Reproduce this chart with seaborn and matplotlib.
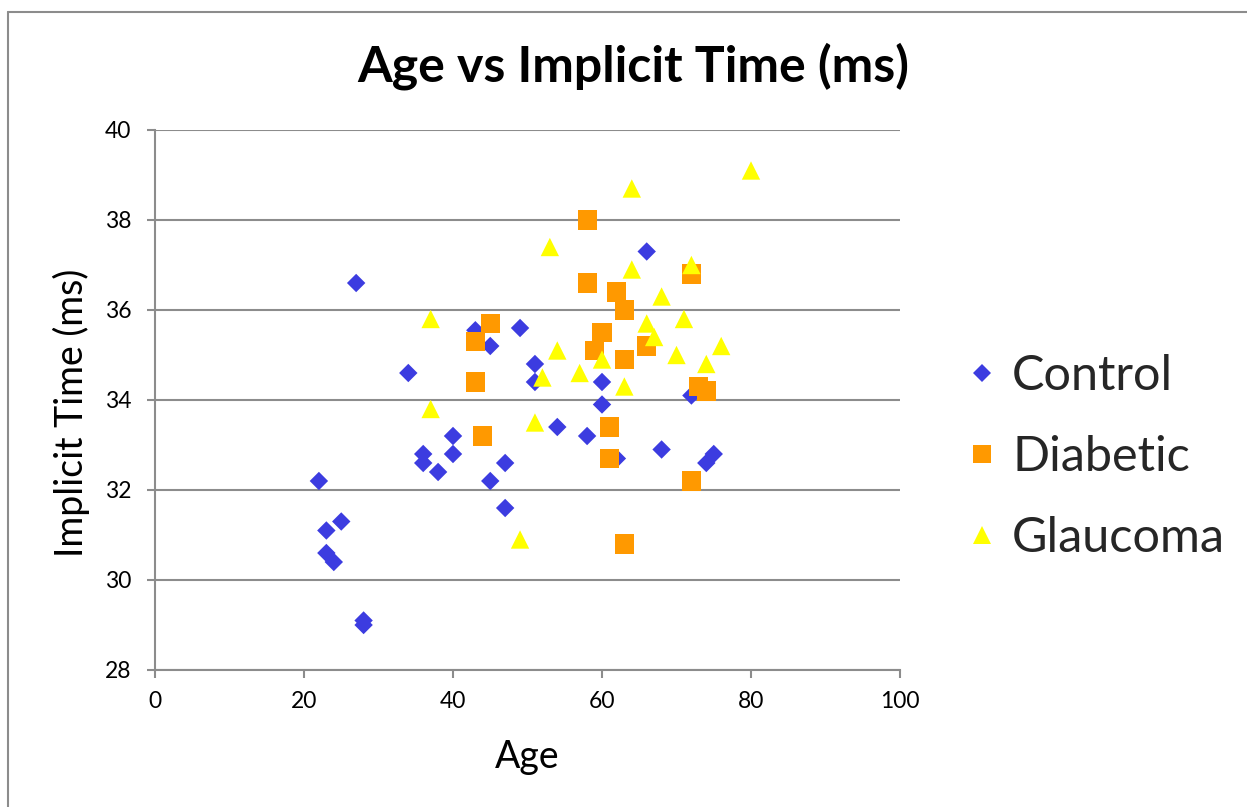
import matplotlib
matplotlib.use("Agg")
import matplotlib.pyplot as plt
from matplotlib.lines import Line2D
import seaborn as sns
import pandas as pd

# ---- data ----
control_age = [22, 23, 23, 24, 25, 27, 28, 28, 34, 36, 36, 38, 40, 40, 43, 45, 45, 47, 47, 49,
               51, 51, 54, 58, 60, 60, 62, 66, 68, 72, 74, 75]
control_time = [32.2, 31.1, 30.6, 30.4, 31.3, 36.6, 29.1, 29.0, 34.6, 32.8, 32.6, 32.4, 33.2, 32.8,
                35.55, 35.2, 32.2, 32.6, 31.6, 35.6, 34.8, 34.4, 33.4, 33.2, 34.4, 33.9, 32.7, 37.3,
                32.9, 34.1, 32.6, 32.8]

diabetic_age = [43, 43, 44, 45, 58, 58, 59, 60, 61, 61, 62, 63, 63, 63, 66, 72, 72, 73, 74]
diabetic_time = [35.3, 34.4, 33.2, 35.7, 38.0, 36.6, 35.1, 35.5, 33.4, 32.7, 36.4, 36.0, 34.9, 30.8,
                 35.2, 36.8, 32.2, 34.3, 34.2]

glaucoma_age = [37, 37, 49, 51, 52, 53, 54, 57, 60, 63, 64, 64, 66, 67, 68, 70, 71, 72, 74, 76, 80]
glaucoma_time = [35.8, 33.8, 30.9, 33.5, 34.5, 37.4, 35.1, 34.6, 34.9, 34.3, 38.7, 36.9, 35.7, 35.4,
                 36.3, 35.0, 35.8, 37.0, 34.8, 35.2, 39.1]

groups = ["Control", "Diabetic", "Glaucoma"]
x_ticks = [0, 20, 40, 60, 80, 100]
y_ticks = [28, 30, 32, 34, 36, 38, 40]
title = "Age vs Implicit Time (ms)"
x_label = "Age"
y_label = "Implicit Time (ms)"

df = pd.concat([
    pd.DataFrame({"Age": control_age, "Time": control_time, "Group": "Control"}),
    pd.DataFrame({"Age": diabetic_age, "Time": diabetic_time, "Group": "Diabetic"}),
    pd.DataFrame({"Age": glaucoma_age, "Time": glaucoma_time, "Group": "Glaucoma"}),
])

# ---- style ----
sns.set_theme(style="white")
plt.rcParams["font.family"] = ["Lato", "DejaVu Sans"]

W, H = 1247, 807
fig = plt.figure(figsize=(W / 100, H / 100), dpi=100)
ax = fig.add_axes([155 / W, 137 / H, 745 / W, 540 / H])

colors = {"Control": "#3c3ce0", "Diabetic": "#ff9900", "Glaucoma": "#ffff00"}
markers = {"Control": "D", "Diabetic": "s", "Glaucoma": "^"}
sizes = {"Control": 88, "Diabetic": 188, "Glaucoma": 175}

for g in groups:
    sub = df[df["Group"] == g]
    sns.scatterplot(data=sub, x="Age", y="Time", ax=ax, color=colors[g], marker=markers[g],
                    s=sizes[g], linewidth=0, edgecolor="none", zorder=3, legend=False)

gray = "#8c8c8c"
ax.set_xlim(0, 100)
ax.set_ylim(28, 40)
ax.set_xticks(x_ticks)
ax.set_yticks(y_ticks)
ax.yaxis.grid(True, color=gray, linewidth=1.5)
ax.xaxis.grid(False)
ax.set_axisbelow(True)
for s in ["top", "right"]:
    ax.spines[s].set_visible(False)
for s in ["left", "bottom"]:
    ax.spines[s].set_color(gray)
    ax.spines[s].set_linewidth(1.5)
ax.tick_params(axis="both", which="major", direction="out", length=6, width=1.5,
               color=gray, labelsize=16.5, labelcolor="black")
ax.tick_params(axis="y", pad=11, left=True)
ax.tick_params(axis="x", pad=9, bottom=True)
ax.set_xlabel("")
ax.set_ylabel("")

# titles / labels
fig.text(633 / W, 1 - 82 / H, title, ha="center", va="baseline", fontsize=36,
         fontweight="bold", color="black")
fig.text(527 / W, 1 - 768 / H, x_label, ha="center", va="baseline", fontsize=27, color="black")
fig.text(83 / W, 1 - 413 / H, y_label, ha="center", va="baseline", fontsize=27, color="black",
         rotation=90, rotation_mode="anchor")

# legend
handles = [Line2D([], [], linestyle="none", marker=markers[g], color=colors[g],
                  markeredgewidth=0,
                  markersize=(9.6 if g == "Control" else 13.5)) for g in groups]
leg = fig.legend(handles, groups, loc="center left", bbox_to_anchor=(967 / W, 1 - 457 / H),
                 frameon=False, fontsize=35, handletextpad=0.33, labelspacing=0.76,
                 handlelength=0.6, borderpad=0, borderaxespad=0)

# chart border (left and top visible)
fig.add_artist(Line2D([8 / W, 8 / W], [0, 1 - 12 / H], color=gray, linewidth=1.5))
fig.add_artist(Line2D([8 / W, 1.0], [1 - 12 / H, 1 - 12 / H], color=gray, linewidth=1.5))

fig.savefig("out.png", dpi=100)
